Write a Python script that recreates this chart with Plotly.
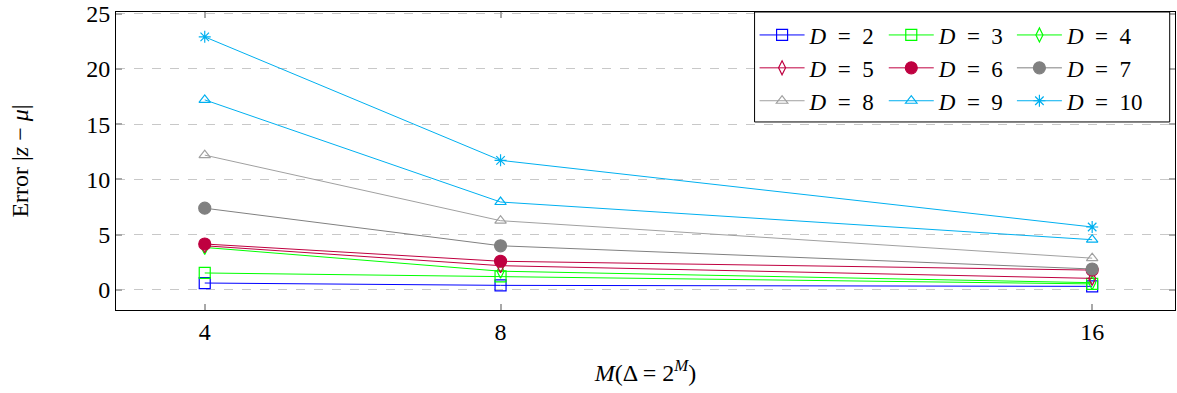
import plotly.graph_objects as go

M = [4, 8, 16]
D_labels = [2, 3, 4, 5, 6, 7, 8, 9, 10]
err_D2 = [0.63, 0.42, 0.33]
err_D3 = [1.54, 1.23, 0.55]
err_D4 = [3.85, 1.70, 0.66]
err_D5 = [4.00, 2.20, 1.05]
err_D6 = [4.16, 2.60, 1.80]
err_D7 = [7.40, 4.00, 1.90]
err_D8 = [12.20, 6.27, 2.88]
err_D9 = [17.20, 7.96, 4.55]
err_D10 = [22.90, 11.73, 5.70]

series = [err_D2, err_D3, err_D4, err_D5, err_D6, err_D7, err_D8, err_D9, err_D10]
colors = ["#0000ff", "#00ff00", "#00ff00", "#bf0040", "#bf0040",
          "#808080", "#a0a0a0", "#00b0f0", "#00b0f0"]
symbols = ["square-open", "square-open", "diamond-tall-open", "diamond-tall-open",
           "circle", "circle", "triangle-up-open", "triangle-up-open", "asterisk-open"]
sizes = [11, 11, 10, 10, 12, 12, 10, 10, 10]
legends = ["legend", "legend2", "legend3"] * 3

FONT = "Liberation Serif, Times New Roman, DejaVu Serif, serif"

fig = go.Figure()
for i, (d, ys) in enumerate(zip(D_labels, series)):
    fig.add_trace(go.Scatter(
        x=M, y=ys, mode="lines+markers",
        name=f"<i>D</i>\u2002=\u2002{d}",
        line=dict(color=colors[i], width=1),
        marker=dict(symbol=symbols[i], size=sizes[i], color=colors[i],
                    line=dict(color=colors[i], width=1.2)),
        legend=legends[i], legendgroup=f"g{d}",
    ))

leg_common = dict(font=dict(family=FONT, size=23, color="black"),
                  bgcolor="rgba(0,0,0,0)", borderwidth=0, itemwidth=45,
                  yanchor="top", xanchor="left", tracegroupgap=0,
                  orientation="v", itemclick=False)

fig.update_layout(
    width=1177, height=393,
    margin=dict(l=116, r=2, t=12, b=83, autoexpand=False),
    paper_bgcolor="white", plot_bgcolor="white",
    font=dict(family=FONT, size=24, color="black"),
    showlegend=True,
    legend=dict(x=0.603, y=0.995, **leg_common),
    legend2=dict(x=0.725, y=0.995, **leg_common),
    legend3=dict(x=0.846, y=0.995, **leg_common),
    shapes=[dict(type="rect", xref="paper", yref="paper",
                 x0=0.603, x1=0.995, y0=0.631, y1=1.0,
                 line=dict(color="black", width=1), fillcolor="white",
                 layer="above")],
    xaxis=dict(
        range=[2.8, 17.12], tickvals=M, ticktext=[str(v) for v in M],
        showgrid=False, zeroline=False,
        showline=True, linecolor="black", linewidth=1, mirror="ticks",
        ticks="inside", ticklen=6, tickwidth=1.5, tickcolor="#a8a8a8",
        tickfont=dict(family=FONT, size=24), ticklabelstandoff=0,
        title=dict(text="<i>M</i>(Δ = 2<sup><i>M</i></sup>)",
                   font=dict(family=FONT, size=24), standoff=20),
    ),
    yaxis=dict(
        range=[-1.81, 25.15], tickvals=[0, 5, 10, 15, 20, 25],
        showgrid=True, gridcolor="#c8c8c8", griddash="dash", gridwidth=1.3,
        zeroline=False,
        showline=True, linecolor="black", linewidth=1, mirror="ticks",
        ticks="inside", ticklen=6, tickwidth=1.5, tickcolor="#a8a8a8",
        tickfont=dict(family=FONT, size=24), ticklabelstandoff=0,
        title=dict(text="Error |<i>z</i> − <i>μ</i>|",
                   font=dict(family=FONT, size=24), standoff=50),
    ),
)

fig.write_html("out.html",
               config={"displayModeBar": False},
               post_script="document.body.style.margin='0px';")
